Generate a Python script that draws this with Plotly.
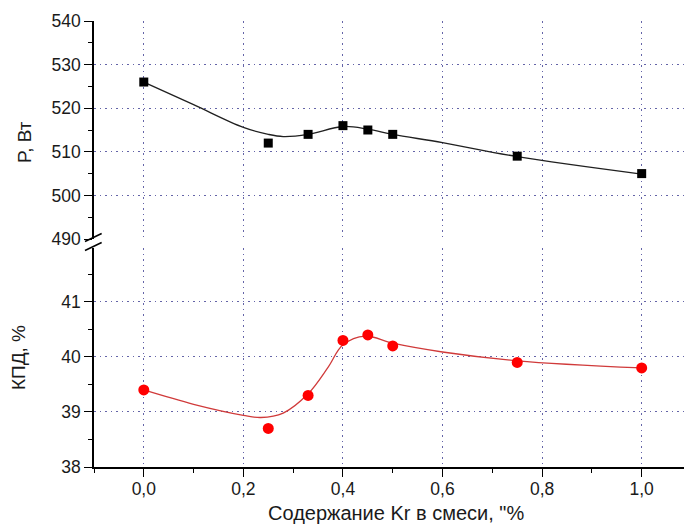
import plotly.graph_objects as go

# ---- data ----
kr_content = [0.0, 0.25, 0.33, 0.40, 0.45, 0.50, 0.75, 1.0]
power_w = [526, 512, 514, 516, 515, 514, 509, 505]
efficiency_pct = [39.4, 38.7, 39.3, 40.3, 40.4, 40.2, 39.9, 39.8]

# smoothed fit curves
power_fit_x = [0.0, 0.1, 0.2, 0.25, 0.28, 0.33, 0.40, 0.45, 0.50, 0.60, 0.75, 1.0]
power_fit_y = [526, 520.8, 515.6, 514.0, 513.5, 514.0, 515.8, 515.2, 514.0, 512.1, 508.9, 504.9]
eff_fit_x = [0.0, 0.1, 0.2, 0.235, 0.28, 0.33, 0.37, 0.40, 0.445, 0.50, 0.60, 0.75, 1.0]
eff_fit_y = [39.4, 39.14, 38.94, 38.90, 38.98, 39.33, 39.81, 40.22, 40.38, 40.25, 40.09, 39.93, 39.80]

x_title = 'Содержание Kr в смеси, "%'
y_top_title = "P, Вт"
y_bot_title = "КПД, %"

FONT = "Liberation Sans, Arial, sans-serif"
GRID = "#6464a8"
top_dom = [0.5112, 1.0]
bot_dom = [0.0, 0.491]

fig = go.Figure()
fig.add_trace(go.Scatter(x=power_fit_x, y=power_fit_y, mode="lines", yaxis="y2",
                         line=dict(color="#202020", width=1.3, shape="spline", smoothing=1.0),
                         hoverinfo="skip", showlegend=False))
fig.add_trace(go.Scatter(x=kr_content, y=power_w, mode="markers", yaxis="y2",
                         marker=dict(symbol="square", size=9, color="black"), showlegend=False))
fig.add_trace(go.Scatter(x=eff_fit_x, y=eff_fit_y, mode="lines", yaxis="y",
                         line=dict(color="#d03a3a", width=1.3, shape="spline", smoothing=1.0),
                         hoverinfo="skip", showlegend=False))
fig.add_trace(go.Scatter(x=kr_content, y=efficiency_pct, mode="markers", yaxis="y",
                         marker=dict(symbol="circle", size=11, color="#ff0000"), showlegend=False))

common_axis = dict(showline=True, linecolor="black", linewidth=1.5, ticks="outside",
                   ticklen=8, tickwidth=1.3, tickcolor="black", zeroline=False,
                   showgrid=True, gridcolor=GRID, gridwidth=1.4, griddash="1.5px,4px",
                   tickfont=dict(family=FONT, size=17.5, color="#1a1a1a"))

fig.update_layout(
    width=684, height=526,
    margin=dict(l=94, r=0, t=21, b=59),
    paper_bgcolor="white", plot_bgcolor="white",
    separators=",.",
    xaxis=dict(range=[-0.1, 1.085], dtick=0.2, tick0=0, tickformat=".1f", anchor="y",
               ticklabelstandoff=-3,
               minor=dict(dtick=0.1, ticks="outside", ticklen=4, tickcolor="black", showgrid=False),
               **common_axis),
    yaxis=dict(domain=bot_dom, range=[38, 41.98], dtick=1, tick0=38, anchor="x",
               minor=dict(dtick=0.5, ticks="outside", ticklen=4, tickcolor="black", showgrid=False),
               **common_axis),
    yaxis2=dict(domain=top_dom, range=[490, 540], dtick=10, tick0=490, anchor="x",
                minor=dict(dtick=5, ticks="outside", ticklen=4, tickcolor="black", showgrid=False),
                **common_axis),
)

# axis titles
fig.add_annotation(text=x_title, xref="paper", yref="paper", x=0.512, y=-0.103,
                   xanchor="center", yanchor="middle",
                   showarrow=False, font=dict(family=FONT, size=20, color="#1a1a1a"))
fig.add_annotation(text=y_top_title, xref="paper", yref="paper", x=-0.117, y=0.7287,
                   xanchor="center", yanchor="middle",
                   textangle=-90, showarrow=False, font=dict(family=FONT, size=19, color="#1a1a1a"))
fig.add_annotation(text=y_bot_title, xref="paper", yref="paper", x=-0.127, y=0.2444,
                   xanchor="center", yanchor="middle",
                   textangle=-90, showarrow=False, font=dict(family=FONT, size=19, color="#1a1a1a"))

# axis-break marks "//"
plot_w, plot_h = 590.0, 446.0
dx = 9.0 / plot_w
for ybase in (top_dom[0], bot_dom[1]):
    fig.add_shape(type="line", xref="paper", yref="paper",
                  x0=-dx, y0=ybase - 2.5 / plot_h, x1=dx * 0.85, y1=ybase + 5.5 / plot_h,
                  line=dict(color="black", width=1.5))

fig.write_html("out.html")
